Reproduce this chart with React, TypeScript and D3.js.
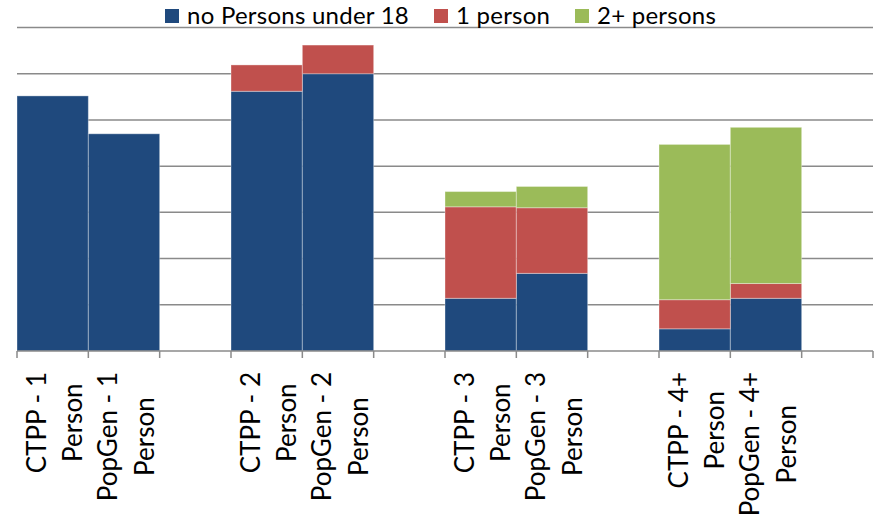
import React, { useEffect, useRef } from "react";
import * as d3 from "d3";

const categories = [
  "CTPP - 1|Person", "PopGen - 1|Person", "",
  "CTPP - 2|Person", "PopGen - 2|Person", " ",
  "CTPP - 3|Person", "PopGen - 3|Person", "  ",
  "CTPP - 4+|Person", "PopGen - 4+|Person", "   ",
];
const seriesNames = ["no Persons under 18", "1 person", "2+ persons"];
const noUnder18 = [27.6, 23.5, 0, 28.1, 30.0, 0, 5.7, 8.4, 0, 2.4, 5.7, 0];
const onePerson = [0, 0, 0, 2.85, 3.1, 0, 9.9, 7.1, 0, 3.15, 1.6, 0];
const twoPlus = [0, 0, 0, 0, 0, 0, 1.65, 2.3, 0, 16.8, 16.9, 0];
const yTicks = [5, 10, 15, 20, 25, 30, 35];
const colors = ["#1F497D", "#C0504D", "#9BBB59"];

const W = 885, H = 522;
const FONT = "Lato, 'Open Sans', sans-serif";

export default function App() {
  const ref = useRef<SVGSVGElement>(null);
  useEffect(() => {
    const svg = d3.select(ref.current);
    svg.selectAll("*").remove();
    const x = d3.scaleBand().domain(categories).range([17, 873]).padding(0);
    const y = d3.scaleLinear().domain([0, 35]).range([351, 27.5]);

    // gridlines
    svg.append("g").selectAll("line").data(yTicks).join("line")
      .attr("x1", 17).attr("x2", 873)
      .attr("y1", d => y(d)).attr("y2", d => y(d))
      .attr("stroke", "#8a8a8a").attr("stroke-width", 1.5);

    const rows = categories.map((c, i) => ({ c, a: noUnder18[i], b: onePerson[i], g: twoPlus[i] }));
    const stack = d3.stack<any>().keys(["a", "b", "g"])(rows);
    stack.forEach((layer, si) => {
      svg.append("g").selectAll("rect").data(layer.filter(d => d[1] - d[0] > 0)).join("rect")
        .attr("x", d => x(d.data.c)!)
        .attr("width", x.bandwidth())
        .attr("y", d => y(d[1]))
        .attr("height", d => y(d[0]) - y(d[1]))
        .attr("fill", colors[si])
        .attr("stroke", "#ffffff").attr("stroke-opacity", 0.35).attr("stroke-width", 1);
    });

    // axis baseline and ticks
    const ax = svg.append("g");
    ax.append("line").attr("x1", 17).attr("x2", 873).attr("y1", 351).attr("y2", 351)
      .attr("stroke", "#8a8a8a").attr("stroke-width", 1.5);
    const bounds = categories.map(c => x(c)!).concat([873]);
    ax.selectAll("line.t").data(bounds).join("line").attr("class", "t")
      .attr("x1", d => d).attr("x2", d => d).attr("y1", 351).attr("y2", 358)
      .attr("stroke", "#8a8a8a").attr("stroke-width", 1.5);

    // x labels
    categories.forEach(c => {
      const lines = c.split("|").filter(s => s.trim().length > 0);
      if (!lines.length) return;
      const cx = x(c)! + x.bandwidth() / 2;
      const g = svg.append("g");
      const texts = lines.map((l) =>
        g.append("text").text(l)
          .attr("font-family", FONT).attr("font-size", 26).attr("fill", "#000")
          .attr("text-anchor", "middle"));
      const maxLen = Math.max(...texts.map(t => (t.node() as SVGTextElement).getComputedTextLength()));
      const cy = 372 + maxLen / 2;
      texts.forEach((t, i) => {
        const bx = cx - 7 + i * 36.5;
        t.attr("transform", `translate(${bx},${cy}) rotate(-90)`);
      });
    });

    // legend
    const legX = [165, 434, 575];
    seriesNames.forEach((n, i) => {
      svg.append("rect").attr("x", legX[i]).attr("y", 9).attr("width", 14).attr("height", 14).attr("fill", colors[i]);
      svg.append("text").attr("x", legX[i] + 22).attr("y", 24).text(n)
        .attr("font-family", FONT).attr("font-size", 24).attr("letter-spacing", 0.25).attr("fill", "#000");
    });
  }, []);
  return (
    <svg ref={ref} width={W} height={H} style={{ position: "absolute", left: 0, top: 0, background: "#fff" }} />
  );
}
